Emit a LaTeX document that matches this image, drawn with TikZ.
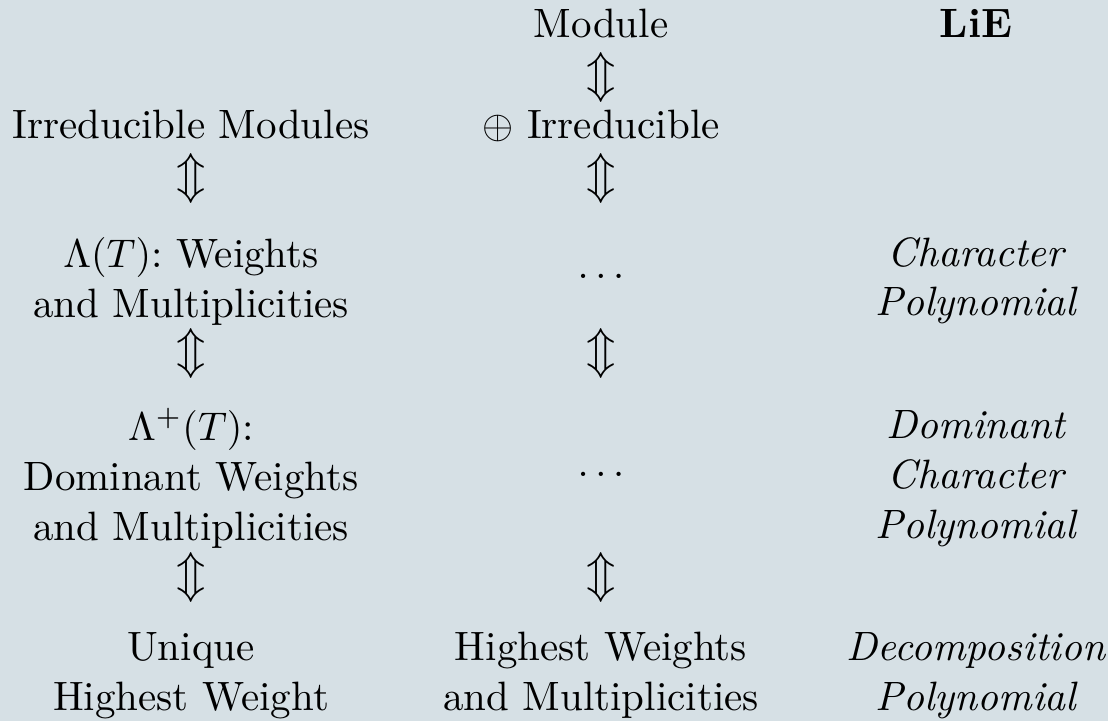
\documentclass[tikz,border=0pt]{standalone}
\definecolor{bgcol}{RGB}{214,224,229}
\frenchspacing
\tikzset{
  x=0.25pt, y=-0.25pt,
  txt/.style={anchor=base, inner sep=0pt, outer sep=0pt, font=\fontsize{10.25pt}{12.5pt}\selectfont},
  itxt/.style={txt, font=\fontsize{10.25pt}{12.5pt}\selectfont\itshape},
  udarr/.style={anchor=center, inner sep=0pt, outer sep=0pt, font=\fontsize{11.5pt}{12.5pt}\selectfont},
  dotsnode/.style={anchor=center, inner sep=0pt, outer sep=0pt, font=\fontsize{10.25pt}{12.5pt}\selectfont},
}
\begin{document}
\begin{tikzpicture}
\fill[bgcol] (0,0) rectangle (1108,721);
\useasboundingbox (0,0) rectangle (1108,721);
% column 1
\node[txt] (irr) at (191,138) {Irreducible Modules};
\node[udarr] (a1) at (191,178) {$\Updownarrow$};
\node[txt] (lamA) at (191,267) {$\Lambda(T)$: Weights};
\node[txt] (lamB) at (191,317) {and Multiplicities};
\node[udarr] (a2) at (191,353) {$\Updownarrow$};
\node[txt] (domA) at (191,440) {$\Lambda^{+}(T)$:};
\node[txt] (domB) at (191,490) {Dominant Weights};
\node[txt] (domC) at (191,540) {and Multiplicities};
\node[udarr] (a3) at (191,577) {$\Updownarrow$};
\node[txt] (uniA) at (191,660) {Unique};
\node[txt] (uniB) at (191,710) {Highest Weight};
% column 2
\node[txt] (mod) at (601,37) {Module};
\node[udarr] (b0) at (601,77) {$\Updownarrow$};
\node[txt] (osum) at (601,138) {$\oplus$ Irreducible};
\node[udarr] (b1) at (601,178) {$\Updownarrow$};
\node[dotsnode] (dotsA) at (601,276) {$\ldots$};
\node[udarr] (b2) at (601,353) {$\Updownarrow$};
\node[dotsnode] (dotsB) at (601,474) {$\ldots$};
\node[udarr] (b3) at (601,577) {$\Updownarrow$};
\node[txt] (hwA) at (601,660) {Highest Weights};
\node[txt] (hwB) at (601,710) {and Multiplicities};
% column 3
\node[txt] (lie) at (976,37) {\textbf{LiE}};
\node[itxt] (chA) at (976,266) {Character};
\node[itxt] (chB) at (976,315) {Polynomial};
\node[itxt] (dcA) at (976,438) {Dominant};
\node[itxt] (dcB) at (976,488) {Character};
\node[itxt] (dcC) at (976,538) {Polynomial};
\node[itxt] (deA) at (976,660) {Decomposition};
\node[itxt] (deB) at (976,710) {Polynomial};
\end{tikzpicture}
\end{document}
